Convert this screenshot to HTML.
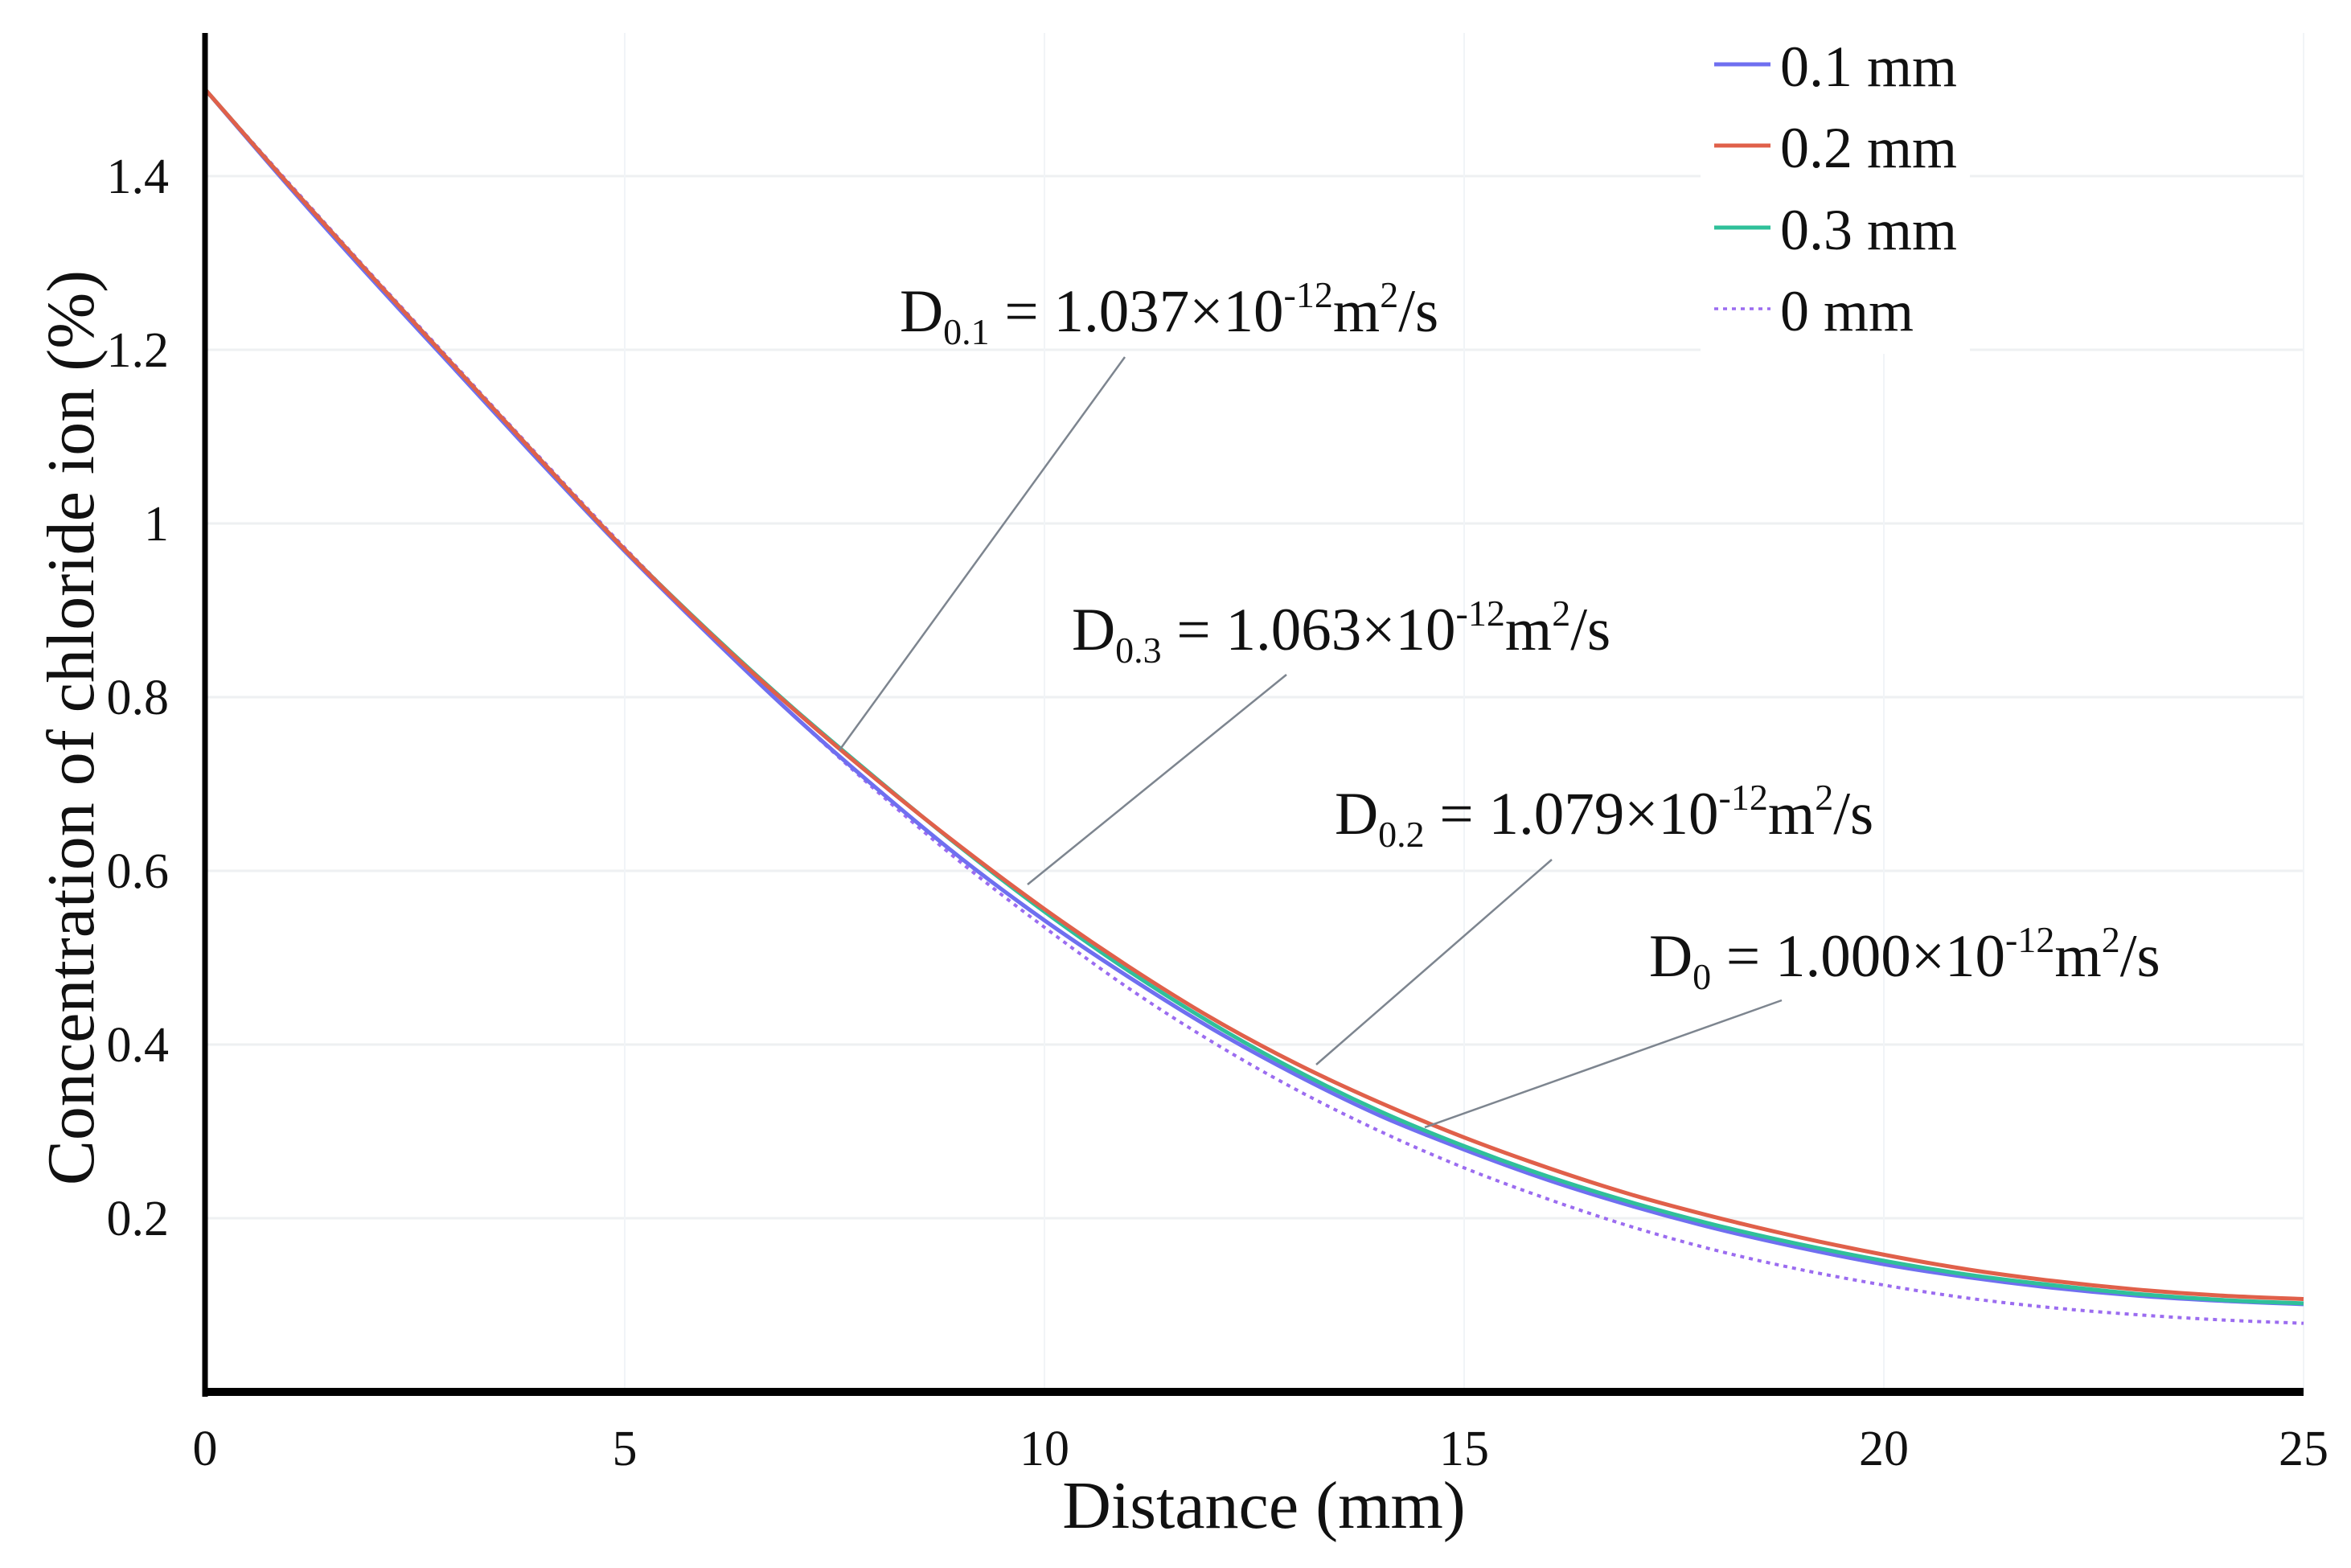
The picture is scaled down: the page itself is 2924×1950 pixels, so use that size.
<!DOCTYPE html>
<html><head><meta charset="utf-8"><style>
html,body{margin:0;padding:0;background:#fff;}
svg{display:block;font-family:"Liberation Serif",serif;}
</style></head><body>
<svg id="chart" width="2924" height="1950" viewBox="0 0 2924 1950"></svg>
<script>
const xValues=[0,1,2,3,4,5,6,7,8,9,10,11,12,13,14,15,16,17,18,19,20,21,22,23,24,25];
const series01=[1.5,1.388,1.28,1.175,1.07,0.968,0.872,0.78,0.695,0.615,0.543,0.478,0.418,0.365,0.318,0.279,0.244,0.214,0.188,0.166,0.147,0.132,0.12,0.111,0.105,0.101];
const series02=[1.5,1.39,1.283,1.178,1.073,0.97,0.875,0.787,0.705,0.628,0.556,0.49,0.43,0.378,0.333,0.293,0.258,0.227,0.201,0.178,0.158,0.141,0.128,0.118,0.111,0.107];
const series03=[1.5,1.39,1.283,1.178,1.073,0.97,0.876,0.788,0.706,0.627,0.553,0.485,0.424,0.37,0.323,0.283,0.248,0.218,0.192,0.17,0.151,0.135,0.123,0.113,0.106,0.102];
const series00=[1.5,1.392,1.285,1.18,1.075,0.972,0.874,0.78,0.692,0.61,0.535,0.465,0.403,0.348,0.3,0.258,0.222,0.19,0.163,0.141,0.123,0.108,0.097,0.089,0.083,0.079];
const xTicks=[0,5,10,15,20,25];
const yTicks=[0.2,0.4,0.6,0.8,1,1.2,1.4];
const yTickLabels=["0.2","0.4","0.6","0.8","1","1.2","1.4"];
const legendLabels=["0.1 mm","0.2 mm","0.3 mm","0 mm"];

const NS="http://www.w3.org/2000/svg";
const svg=document.getElementById('chart');
const X0=255,X1=2865,Y0=1731,PX_PER=1080;
function sx(v){return X0+(v-0)/25*(X1-X0);}
function sy(v){return Y0-v*PX_PER;}
function mk(tag,attrs,parent){const e=document.createElementNS(NS,tag);for(const k in attrs)e.setAttribute(k,attrs[k]);(parent||svg).appendChild(e);return e;}

const grid=mk('g',{});


yTicks.forEach(v=>{const l=mk('line',{x1:X0,x2:X1,y1:sy(v),y2:sy(v),stroke:'#eef0f2','stroke-width':3},grid);

});
xTicks.forEach(v=>{if(v===0)return;const l=mk('line',{x1:sx(v),x2:sx(v),y1:41,y2:Y0,stroke:'#f1f4f7','stroke-width':2},grid);

});

const lb=mk('rect',{x:2115,y:30,width:335,height:410,fill:'#fff'});



function pathFor(vals){
  const pts=xValues.map((x,i)=>[sx(x),sy(vals[i])]);
  let d='M'+pts[0][0]+','+pts[0][1];
  for(let i=0;i<pts.length-1;i++){
    const p0=pts[Math.max(i-1,0)],p1=pts[i],p2=pts[i+1],p3=pts[Math.min(i+2,pts.length-1)];
    const c1=[p1[0]+(p2[0]-p0[0])/6,p1[1]+(p2[1]-p0[1])/6];
    const c2=[p2[0]-(p3[0]-p1[0])/6,p2[1]-(p3[1]-p1[1])/6];
    d+=' C'+c1.join(',')+' '+c2.join(',')+' '+p2.join(',');
  }
  return d;
}
const seriesDefs=[
  {vals:series00,color:'#9b6cf0',dash:'5,6',name:'series-0mm'},
  {vals:series01,color:'#6f6ff0',dash:'',name:'series-0.1mm'},
  {vals:series03,color:'#2fc09a',dash:'',name:'series-0.3mm'},
  {vals:series02,color:'#e0604a',dash:'',name:'series-0.2mm'}
];
seriesDefs.forEach(s=>{
  const p=mk('path',{d:pathFor(s.vals),fill:'none',stroke:s.color,'stroke-width':s.dash?4:5,'stroke-dasharray':s.dash});
  
  
});

const ya=mk('line',{x1:X0,x2:X0,y1:41,y2:Y0+6,stroke:'#000','stroke-width':7});


const xa=mk('line',{x1:X0-3,x2:X1,y1:Y0,y2:Y0,stroke:'#000','stroke-width':10});



yTicks.forEach((v,i)=>{const t=mk('text',{x:210,y:sy(v)+21,'font-size':62,'text-anchor':'end',fill:'#111'});t.textContent=yTickLabels[i];

});
xTicks.forEach(v=>{const t=mk('text',{x:sx(v),y:1822,'font-size':62,'text-anchor':'middle',fill:'#111'});t.textContent=String(v);

});

const xt=mk('text',{x:1572,y:1900,'font-size':84,'text-anchor':'middle',fill:'#111'});xt.textContent='Distance (mm)';


const yt=mk('text',{x:0,y:0,'font-size':84,'text-anchor':'middle',fill:'#111',transform:'translate(116,905) rotate(-90)'});yt.textContent='Concentration of chloride ion (%)';



const legColors=['#6f6ff0','#e0604a','#2fc09a','#9b6cf0'];
const legY=[84,185,287,388];
legendLabels.forEach((lab,i)=>{
  const g=mk('g',{});
  
  
  mk('line',{x1:2132,x2:2202,y1:legY[i]-4,y2:legY[i]-4,stroke:legColors[i],'stroke-width':i===3?3.5:5,'stroke-dasharray':i===3?'5,6':''},g);
  const t=mk('text',{x:2214,y:legY[i]+23,'font-size':72,fill:'#111'},g);t.textContent=lab;
});

const ann=[
  {main:'D',sub:'0.1',rest:' = 1.037×10',sup:'-12',tail:'m',sup2:'2',end:'/s',x:1119,y:412,l:[1399,444,1044,933]},
  {main:'D',sub:'0.3',rest:' = 1.063×10',sup:'-12',tail:'m',sup2:'2',end:'/s',x:1333,y:808,l:[1600,839,1278,1100]},
  {main:'D',sub:'0.2',rest:' = 1.079×10',sup:'-12',tail:'m',sup2:'2',end:'/s',x:1660,y:1037,l:[1930,1069,1637,1324]},
  {main:'D',sub:'0',rest:' = 1.000×10',sup:'-12',tail:'m',sup2:'2',end:'/s',x:2051,y:1214,l:[2216,1244,1772,1402]}
];
ann.forEach(a=>{
  const ln=mk('line',{x1:a.l[0],y1:a.l[1],x2:a.l[2],y2:a.l[3],stroke:'#7d858f','stroke-width':2.5});
  
  
  const t=mk('text',{x:a.x,y:a.y,'font-size':75,fill:'#111'});
  
  
  const parts=[[a.main,0,75],[a.sub,16,46],[a.rest,-16,75],[a.sup,-30,46],[a.tail,30,75],[a.sup2,-30,46],[a.end,30,75]];
  parts.forEach(p=>{const s=mk('tspan',{dy:p[1],'font-size':p[2]},t);s.textContent=p[0];});
});
</script>
</body></html>
